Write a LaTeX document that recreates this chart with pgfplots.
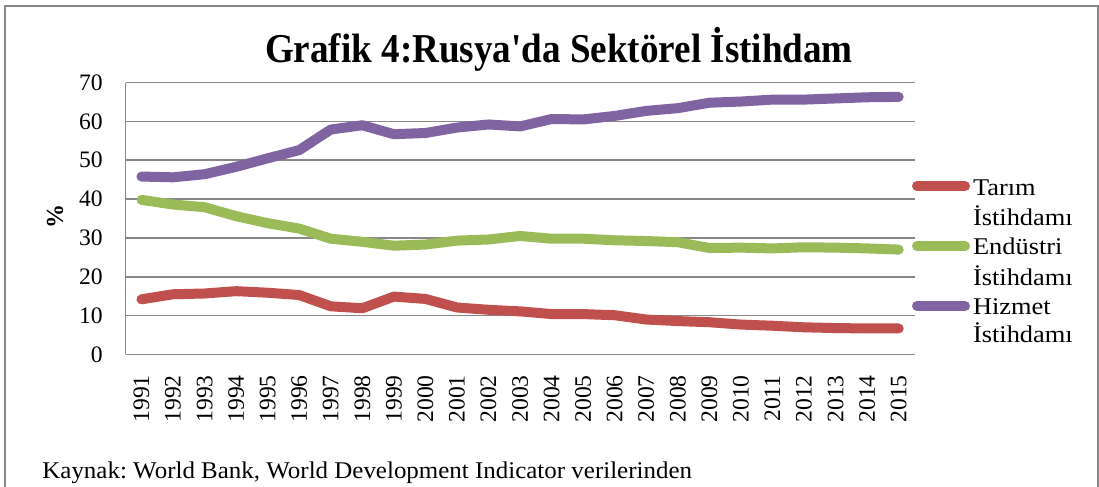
\documentclass[border=0pt]{standalone}
\usepackage{pgfplots}
\pgfplotsset{compat=1.18}
\usepackage{fontspec}
\setmainfont{Liberation Serif}
\frenchspacing
\definecolor{cRed}{HTML}{C0504D}
\definecolor{cGreen}{HTML}{9BBB59}
\definecolor{cPurple}{HTML}{8064A2}
\definecolor{cGrid}{HTML}{878787}
\begin{document}
\begin{tikzpicture}
\useasboundingbox (0,0) rectangle (549.5pt,243.5pt);
\draw[cGrid, line width=1pt] (2.5pt,-10pt) -- (2.5pt,240.25pt) -- (549pt,240.25pt) -- (549pt,-10pt);
\begin{axis}[
  at={(62.85pt,66.25pt)}, anchor=south west,
  scale only axis, width=394.4pt, height=136pt,
  xmin=1990.5, xmax=2015.5, ymin=0, ymax=70,
  xtick={1991,...,2015}, ytick={0,10,...,70},
  axis x line=bottom, axis y line=left,
  axis line style={-, cGrid, line width=0.75pt},
  ymajorgrids, grid style={cGrid, line width=0.75pt},
  major tick length=0pt,
  /pgf/number format/assume math mode=true,
  /pgf/number format/1000 sep={},
  tick label style={font=\fontsize{11.8}{14}\selectfont, inner sep=0pt},
  xticklabel style={rotate=90, anchor=east},
  xticklabel shift=10.2pt,
  yticklabel style={anchor=east},
  yticklabel shift=11.3pt,
  clip=false,
]
\addplot[cRed, line width=5pt, line cap=round, line join=round] coordinates {
(1991,14.2)(1992,15.5)(1993,15.7)(1994,16.3)(1995,15.9)(1996,15.3)(1997,12.4)(1998,11.9)(1999,14.9)(2000,14.3)
(2001,12.1)(2002,11.5)(2003,11.1)(2004,10.4)(2005,10.4)(2006,10.1)(2007,9.0)(2008,8.6)(2009,8.3)(2010,7.7)
(2011,7.4)(2012,7.0)(2013,6.8)(2014,6.7)(2015,6.7)};
\addplot[cGreen, line width=5pt, line cap=round, line join=round] coordinates {
(1991,39.8)(1992,38.6)(1993,37.9)(1994,35.6)(1995,33.8)(1996,32.4)(1997,29.8)(1998,29.0)(1999,28.0)(2000,28.3)
(2001,29.3)(2002,29.6)(2003,30.5)(2004,29.8)(2005,29.8)(2006,29.4)(2007,29.2)(2008,28.9)(2009,27.4)(2010,27.5)
(2011,27.3)(2012,27.6)(2013,27.5)(2014,27.3)(2015,27.0)};
\addplot[cPurple, line width=5pt, line cap=round, line join=round] coordinates {
(1991,45.8)(1992,45.6)(1993,46.4)(1994,48.3)(1995,50.5)(1996,52.6)(1997,57.9)(1998,59.0)(1999,56.7)(2000,57.0)
(2001,58.4)(2002,59.2)(2003,58.7)(2004,60.6)(2005,60.5)(2006,61.4)(2007,62.7)(2008,63.4)(2009,64.8)(2010,65.1)
(2011,65.6)(2012,65.6)(2013,65.9)(2014,66.2)(2015,66.3)};
\end{axis}
% title
\node[anchor=base, inner sep=0pt, xscale=0.905, font=\fontsize{20.5}{24}\selectfont\bfseries] at (279.5pt,212pt) {Grafik 4:Rusya\textquotesingle da Sektörel İstihdam};
% y label
\node[rotate=90, inner sep=0pt, font=\fontsize{12}{14}\selectfont\bfseries] at (27.5pt,135pt) {\%};
% legend
\begin{scope}[font=\fontsize{12}{14}\selectfont]
\draw[cRed, line width=5pt, line cap=round] (458.5pt,150.5pt) -- (482.5pt,150.5pt);
\draw[cGreen, line width=5pt, line cap=round] (458.5pt,120.5pt) -- (482.5pt,120.5pt);
\draw[cPurple, line width=5pt, line cap=round] (458.5pt,90.5pt) -- (482.5pt,90.5pt);
\node[anchor=base west, inner sep=0pt, xscale=1.1] at (486.3pt,145.5pt) {Tarım};
\node[anchor=base west, inner sep=0pt, xscale=1.1] at (486.3pt,130.6pt) {İstihdamı};
\node[anchor=base west, inner sep=0pt, xscale=1.1] at (486.3pt,116.3pt) {Endüstri};
\node[anchor=base west, inner sep=0pt, xscale=1.1] at (486.3pt,100.5pt) {İstihdamı};
\node[anchor=base west, inner sep=0pt, xscale=1.1] at (486.3pt,86pt) {Hizmet};
\node[anchor=base west, inner sep=0pt, xscale=1.1] at (486.3pt,72pt) {İstihdamı};
\end{scope}
% source
\node[anchor=base west, inner sep=0pt, xscale=1.04, font=\fontsize{12}{14}\selectfont] at (21pt,4pt) {Kaynak: World Bank, World Development Indicator verilerinden};
\end{tikzpicture}
\end{document}
